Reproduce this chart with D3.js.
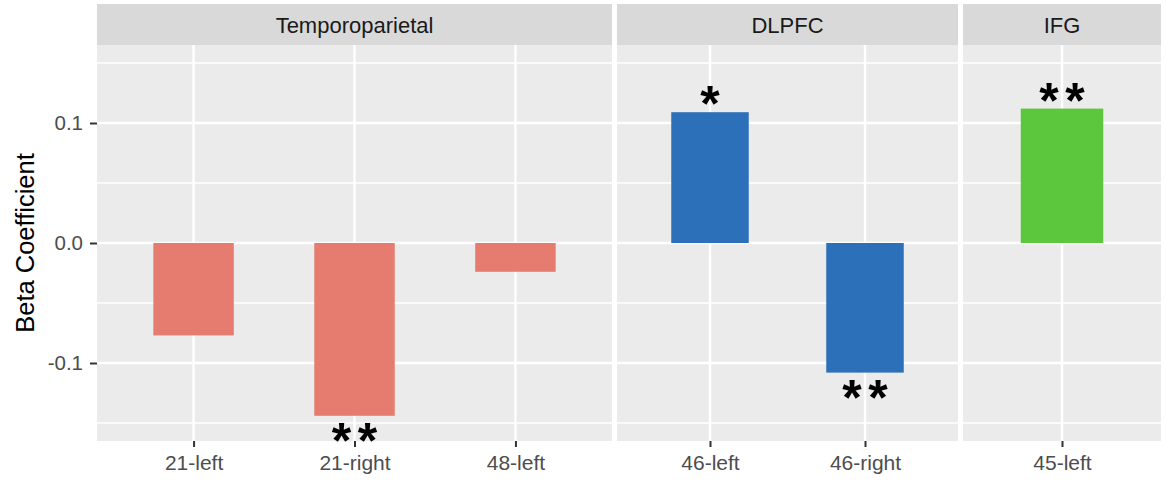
<!DOCTYPE html>
<html>
<head>
<meta charset="utf-8">
<script src="https://cdn.jsdelivr.net/npm/d3@7"></script>
<style>
  html, body { margin: 0; padding: 0; background: #ffffff; }
  svg { display: block; font-family: "Liberation Sans", Arial, Helvetica, sans-serif; }
</style>
</head>
<body>
<svg id="chart" width="1166" height="483"></svg>
<script>
// Facets (brain areas) and the regions plotted within each
const facets = ["Temporoparietal", "DLPFC", "IFG"];
const facetColors = ["#E67C70", "#2C70B9", "#5CC63D"];
const regions = ["21-left", "21-right", "48-left", "46-left", "46-right", "45-left"];
const regionFacet = ["Temporoparietal", "Temporoparietal", "Temporoparietal", "DLPFC", "DLPFC", "IFG"];
const betas = [-0.077, -0.144, -0.024, 0.109, -0.108, 0.112];
const stars = ["", "**", "", "*", "**", "**"];
const yTicks = [-0.1, 0.0, 0.1];
const yMinor = [-0.15, -0.05, 0.05, 0.15];
const yLabel = "Beta Coefficient";

// Layout
const panelTop = 45, panelBottom = 441, stripTop = 4;
const panelEdges = [[97, 612], [617, 958], [963, 1161]];
const starSize = 50, starGap = 26;

const svg = d3.select("#chart");
const y = d3.scaleLinear().domain([-0.165, 0.165]).range([panelBottom, panelTop]);

const rows = regions.map((r, i) => ({ region: r, facet: regionFacet[i], beta: betas[i], star: stars[i] }));

facets.forEach((f, fi) => {
  const [x0, x1] = panelEdges[fi];
  const cats = rows.filter(d => d.facet === f);
  const x = d3.scalePoint().domain(cats.map(d => d.region)).range([x0, x1]).padding(0.6);
  const bw = x.step() * 0.5;
  const g = svg.append("g");

  // panel background
  g.append("rect").attr("x", x0).attr("y", panelTop).attr("width", x1 - x0).attr("height", panelBottom - panelTop)
    .attr("fill", "#EBEBEB");

  // minor gridlines
  g.selectAll(".minor").data(yMinor).join("line")
    .attr("x1", x0).attr("x2", x1).attr("y1", d => y(d)).attr("y2", d => y(d))
    .attr("stroke", "#ffffff").attr("stroke-width", 1.3);

  // major gridlines
  g.selectAll(".major").data(yTicks).join("line")
    .attr("x1", x0).attr("x2", x1).attr("y1", d => y(d)).attr("y2", d => y(d))
    .attr("stroke", "#ffffff").attr("stroke-width", 2.4);
  g.selectAll(".vmajor").data(cats).join("line")
    .attr("x1", d => x(d.region)).attr("x2", d => x(d.region)).attr("y1", panelTop).attr("y2", panelBottom)
    .attr("stroke", "#ffffff").attr("stroke-width", 2.4);

  // strip
  g.append("rect").attr("x", x0).attr("y", stripTop).attr("width", x1 - x0).attr("height", panelTop - stripTop)
    .attr("fill", "#D9D9D9");
  g.append("text").attr("x", (x0 + x1) / 2).attr("y", 33).attr("text-anchor", "middle")
    .attr("font-size", 22).attr("fill", "#1A1A1A").text(f);

  // bars
  g.selectAll(".bar").data(cats).join("rect")
    .attr("x", d => x(d.region) - bw / 2).attr("width", bw)
    .attr("y", d => y(Math.max(0, d.beta)))
    .attr("height", d => Math.abs(y(d.beta) - y(0)))
    .attr("fill", facetColors[fi]);

  // significance stars: one glyph per asterisk, centred above/below the bar end
  const starGlyphs = [];
  cats.filter(d => d.star).forEach(d => {
    const n = d.star.length;
    const cy = d.beta >= 0 ? y(d.beta) - 19 : y(d.beta) + 14;
    for (let k = 0; k < n; k++) {
      starGlyphs.push({ x: x(d.region) + (k - (n - 1) / 2) * starGap, cy });
    }
  });
  g.selectAll(".star").data(starGlyphs).join("text")
    .attr("x", d => d.x)
    .attr("y", d => d.cy + 0.56 * starSize)
    .attr("text-anchor", "middle")
    .attr("font-size", starSize).attr("font-weight", "bold").attr("fill", "#000")
    .text("*");

  // x axis ticks & labels
  const xa = g.append("g").attr("transform", `translate(0,${panelBottom})`)
    .call(d3.axisBottom(x).tickSize(6).tickPadding(8));
  xa.select(".domain").remove();
  xa.selectAll(".tick line").attr("stroke", "#333333").attr("stroke-width", 2);
  xa.selectAll(".tick text").attr("font-size", 21).attr("fill", "#4D4D4D")
    .attr("font-family", "Liberation Sans, Arial, sans-serif");

  if (fi === 0) {
    const ya = g.append("g").attr("transform", `translate(${x0},0)`)
      .call(d3.axisLeft(y).tickValues(yTicks).tickFormat(d3.format(".1f")).tickSize(7).tickPadding(7));
    ya.select(".domain").remove();
    ya.selectAll(".tick line").attr("stroke", "#333333").attr("stroke-width", 2);
    ya.selectAll(".tick text").attr("font-size", 20.5).attr("fill", "#4D4D4D")
      .attr("font-family", "Liberation Sans, Arial, sans-serif")
      .text(d => d3.format(".1f")(d).replace("−", "-"));
  }
});

// y axis title
svg.append("text")
  .attr("transform", `translate(34,${(panelTop + panelBottom) / 2}) rotate(-90)`)
  .attr("text-anchor", "middle").attr("font-size", 25.5).attr("fill", "#000")
  .text(yLabel);
</script>
</body>
</html>
